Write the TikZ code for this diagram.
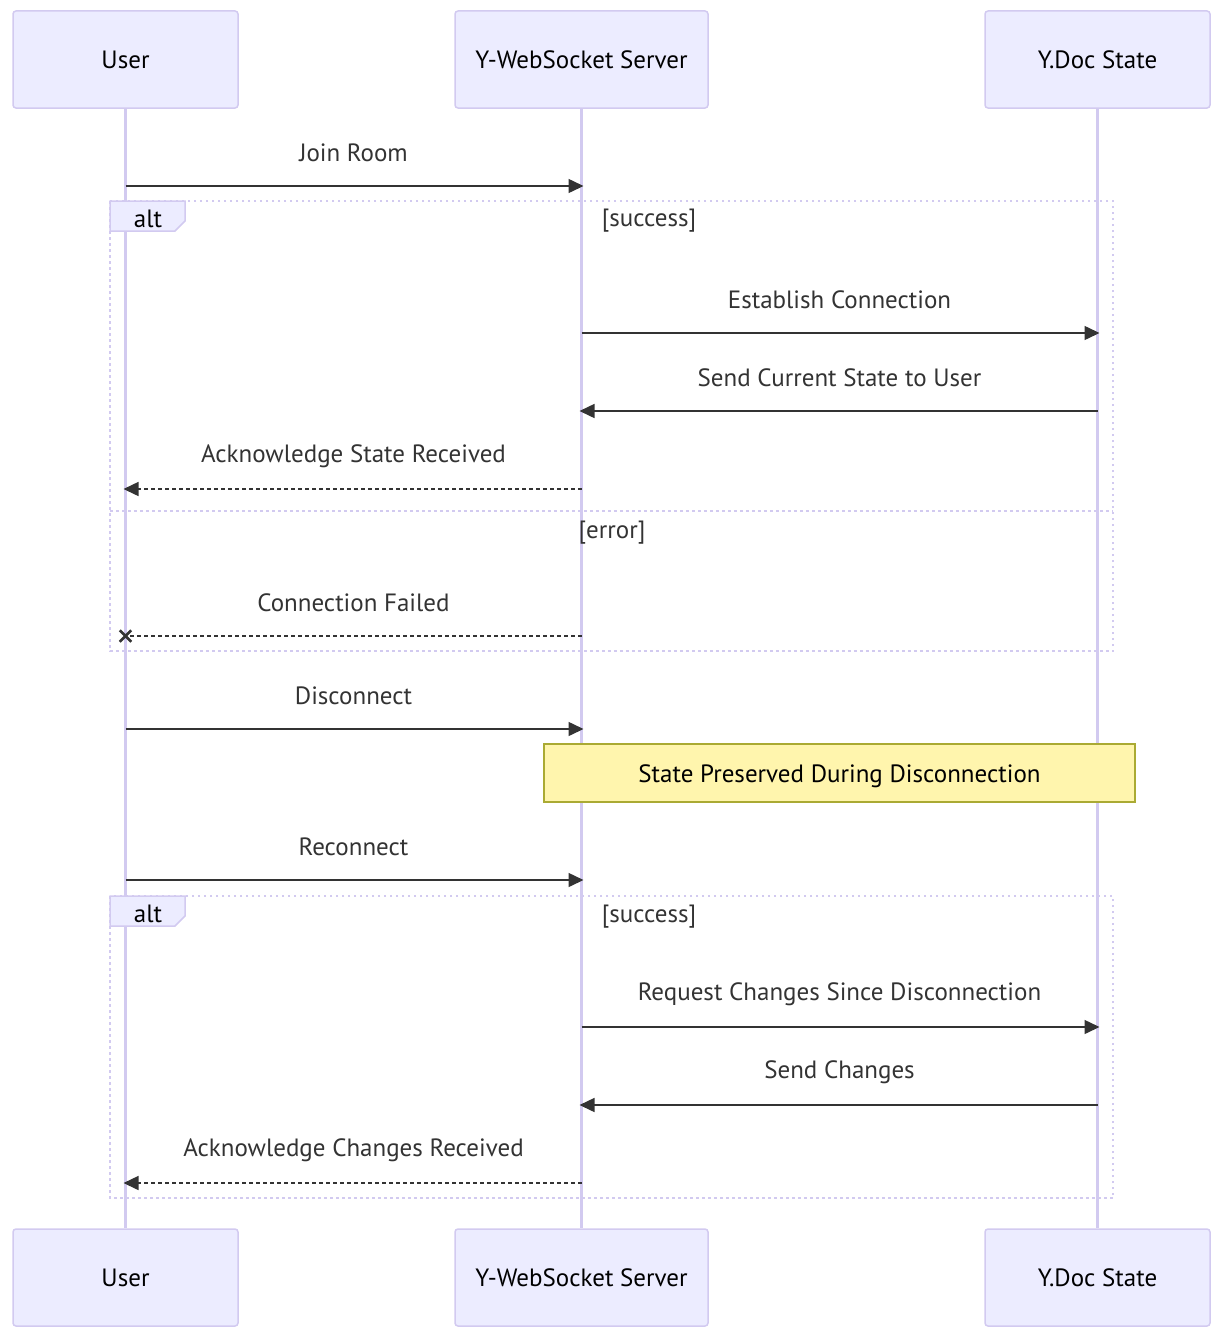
\documentclass[tikz,border=0pt]{standalone}
\usepackage{fontspec}
\setmainfont{PT Sans}
\usepackage{tikz}
\usetikzlibrary{arrows.meta}
\usetikzlibrary{shapes.misc}
\definecolor{actorfill}{HTML}{ECECFF}
\definecolor{actorline}{RGB}{210,202,240}
\definecolor{notefill}{HTML}{FFF5AD}
\definecolor{noteline}{HTML}{AAAA33}
\definecolor{msgcolor}{HTML}{333333}

\begin{document}
\begin{tikzpicture}[x=1pt,y=-1pt,
    font=\fontsize{25}{30}\selectfont,
    actor/.style={draw=actorline,fill=actorfill,line width=1.5pt,rounded corners=3pt,
      minimum width=225pt,minimum height=97pt},
    lifeline/.style={actorline,line width=3pt},
    frame/.style={actorline,line width=2.5pt,dash pattern=on 2.5pt off 3.5pt},
    msg/.style={msgcolor,line width=1.5pt,shorten >=-2pt,-{Triangle[length=15pt,width=14pt]}},
    reply/.style={msg,dash pattern=on 4pt off 3pt},
    lost/.style={msgcolor,line width=1.5pt,dash pattern=on 4pt off 3pt},
    msgtext/.style={midway,yshift=33pt,text=msgcolor},
    guard/.style={text=msgcolor}]
  \useasboundingbox (0,0) rectangle (1222,1338);

  % participants
  \node[actor] (u1) at (125.5,59.5) {User};
  \node[actor,minimum width=253pt] (s1) at (581.5,59.5) {Y-WebSocket Server};
  \node[actor] (d1) at (1097.5,59.5) {Y.Doc State};
  \node[actor] (u2) at (125.5,1277.5) {User};
  \node[actor,minimum width=253pt] (s2) at (581.5,1277.5) {Y-WebSocket Server};
  \node[actor] (d2) at (1097.5,1277.5) {Y.Doc State};
  \foreach \p in {u,s,d}
    \draw[lifeline] (\p1.south) -- (\p2.north);

  % alt blocks
  \draw[frame] (110,201) rectangle (1113,651);
  \draw[frame] (110,511) -- (1113,511);
  \draw[frame] (110,896) rectangle (1113,1198);
  \foreach \y in {201,896} {
    \draw[actorline,fill=actorfill,line width=1.5pt]
      (110,\y) -- ++(75,0) -- ++(0,20) -- ++(-10,10) -- ++(-65,0) -- cycle;
    \node[text=black] (alt\y) at (148,\y+18) {alt};
  }
  \node[guard] (ok1) at (649,221) {[success]};
  \node[guard] (err) at (612,533) {[error]};
  \node[guard] (ok2) at (649,917) {[success]};

  % note
  \node[draw=noteline,fill=notefill,line width=1.5pt,minimum width=591pt,minimum height=58pt,
    text=black,text depth=0pt,text height=18pt] (note) at (839.5,773) {State Preserved During Disconnection};

  % messages
  \foreach \y/\a/\b/\kind/\txt in {
      186/u/s/msg/Join Room,
      333/s/d/msg/Establish Connection,
      411/d/s/msg/Send Current State to User,
      489/s/u/reply/Acknowledge State Received,
      636/s/u/lost/Connection Failed,
      729/u/s/msg/Disconnect,
      880/u/s/msg/Reconnect,
      1027/s/d/msg/Request Changes Since Disconnection,
      1105/d/s/msg/Send Changes,
      1183/s/u/reply/Acknowledge Changes Received} {
    \coordinate (\a-\y) at (\a1.south |- 0,\y);
    \coordinate (\b-\y) at (\b1.south |- 0,\y);
    \draw[\kind] (\a-\y) -- node[msgtext] {\txt} (\b-\y);
  }
  \node[cross out,draw=msgcolor,line width=2.5pt,minimum size=9pt,inner sep=0pt] (fail) at (u-636) {};
\end{tikzpicture}
\end{document}
